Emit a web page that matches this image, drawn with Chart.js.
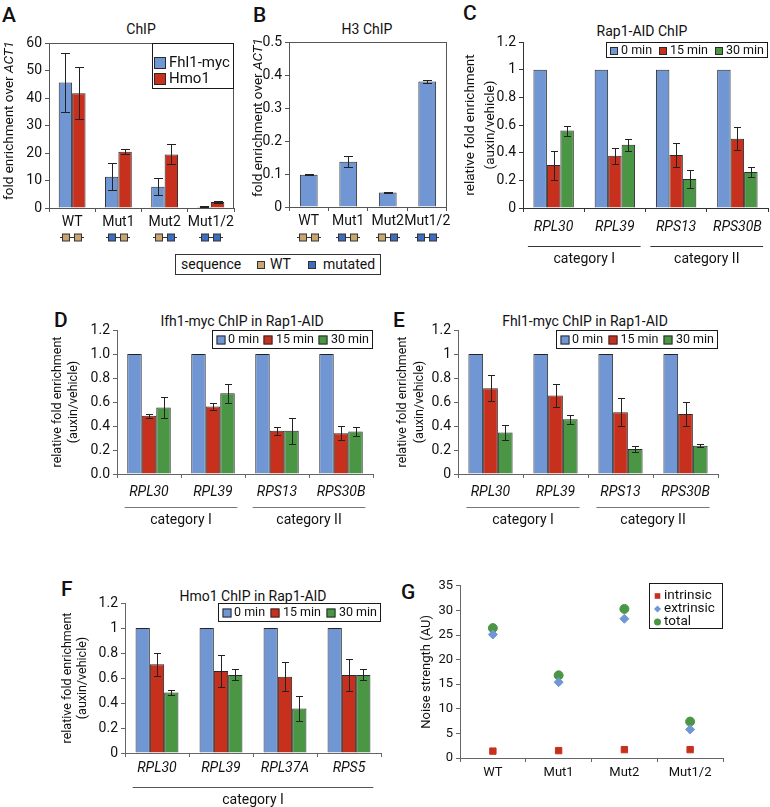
<!DOCTYPE html>
<html>
<head>
<meta charset="utf-8">
<script src="https://cdn.jsdelivr.net/npm/chart.js@4.4.1/dist/chart.umd.min.js"></script>
<style>
  body { margin: 0; background: #fff; width: 770px; height: 807px; position: relative; overflow: hidden; font-family: Roboto, "DejaVu Sans", sans-serif; color: #111; }
  canvas { position: absolute; }
  .letter { position: absolute; font-size: 21px; font-weight: 500; line-height: 1; }
  .title { position: absolute; font-size: 14px; line-height: 16px; white-space: nowrap; transform: translateX(-50%); }
  #seqKey { position: absolute; left: 175px; top: 254px; width: 204px; height: 19px; border: 1px solid #333; font-size: 14px; line-height: 19px; }
  #seqKey span { position: absolute; }
  #seqKey .sq { width: 6px; height: 6px; border: 1px solid #333; top: 6px; }
  #noiseKeyFrame { position: absolute; left: 649px; top: 583px; width: 72px; height: 44px; border: 1px solid #1a1a1a; pointer-events: none; z-index: 5; }
</style>
</head>
<body>
<div class="letter" style="left:2px;top:5px">A</div>
<div class="letter" style="left:253px;top:5px">B</div>
<div class="letter" style="left:463px;top:3px">C</div>
<div class="letter" style="left:54px;top:310px">D</div>
<div class="letter" style="left:393px;top:310px">E</div>
<div class="letter" style="left:61px;top:579px">F</div>
<div class="letter" style="left:401px;top:582px">G</div>

<div class="title" style="left:141px;top:21px">ChIP</div>
<div class="title" style="left:367px;top:21px">H3 ChIP</div>
<div class="title" style="left:642px;top:23px">Rap1-AID ChIP</div>
<div class="title" style="left:242px;top:313px">Ifh1-myc ChIP in Rap1-AID</div>
<div class="title" style="left:585px;top:313px">Fhl1-myc ChIP in Rap1-AID</div>
<div class="title" style="left:253px;top:588px">Hmo1 ChIP in Rap1-AID</div>

<div id="seqKey">
  <span style="left:5px">sequence</span>
  <span class="sq" style="left:81px;background:#c9a66f"></span>
  <span style="left:94px">WT</span>
  <span class="sq" style="left:132px;background:#3f6cbf"></span>
  <span style="left:147px">mutated</span>
</div>

<canvas id="chartA"></canvas>
<canvas id="chartB"></canvas>
<canvas id="chartC"></canvas>
<canvas id="chartD"></canvas>
<canvas id="chartE"></canvas>
<canvas id="chartF"></canvas>
<canvas id="chartG"></canvas>
<div id="noiseKeyFrame"></div>

<script>
// ---- data ----
const seqLabels = ['WT', 'Mut1', 'Mut2', 'Mut1/2'];
const fhl1Chip = [45.6, 11.4, 7.7, 0.5];
const fhl1ChipErr = [10.8, 5.0, 3.1, 0.2];
const hmo1Chip = [41.7, 20.5, 19.5, 2.2];
const hmo1ChipErr = [9.4, 0.8, 3.6, 0.3];
const h3Chip = [0.098, 0.137, 0.044, 0.380];
const h3ChipErr = [0.002, 0.017, 0.002, 0.004];
const seqSites = [['WT', 'WT'], ['mutated', 'WT'], ['WT', 'mutated'], ['mutated', 'mutated']];

const geneLabels = ['RPL30', 'RPL39', 'RPS13', 'RPS30B'];
const hmoGeneLabels = ['RPL30', 'RPL39', 'RPL37A', 'RPS5'];
const timeLabels = ['0 min', '15 min', '30 min'];
const geneGroups = [['category I', 0, 1], ['category II', 2, 3]];
const hmoGroups = [['category I', 0, 3]];

const rap0 = [1, 1, 1, 1];
const rap15 = [0.31, 0.377, 0.384, 0.50];
const rap15Err = [0.105, 0.058, 0.084, 0.083];
const rap30 = [0.56, 0.458, 0.209, 0.26];
const rap30Err = [0.036, 0.044, 0.068, 0.036];

const ifh0 = [1, 1, 1, 1];
const ifh0Err = [0.003, 0.003, 0.003, 0.003];
const ifh15 = [0.485, 0.562, 0.36, 0.34];
const ifh15Err = [0.016, 0.032, 0.033, 0.06];
const ifh30 = [0.554, 0.673, 0.36, 0.355];
const ifh30Err = [0.09, 0.078, 0.106, 0.035];

const fhl0 = [1, 1, 1, 1];
const fhl0Err = [0.003, 0.003, 0.003, 0.003];
const fhl15 = [0.715, 0.654, 0.515, 0.50];
const fhl15Err = [0.11, 0.097, 0.115, 0.10];
const fhl30 = [0.346, 0.457, 0.208, 0.235];
const fhl30Err = [0.065, 0.037, 0.024, 0.013];

const hmo0 = [1, 1, 1, 1];
const hmo0Err = [0.003, 0.003, 0.003, 0.003];
const hmo15 = [0.71, 0.657, 0.61, 0.625];
const hmo15Err = [0.093, 0.13, 0.115, 0.13];
const hmo30 = [0.485, 0.625, 0.357, 0.625];
const hmo30Err = [0.02, 0.045, 0.1, 0.045];

const noiseLabels = ['WT', 'Mut1', 'Mut2', 'Mut1/2'];
const noiseIntrinsic = [1.4, 1.5, 1.7, 1.7];
const noiseExtrinsic = [25.1, 15.4, 28.3, 5.8];
const noiseTotal = [26.4, 16.8, 30.3, 7.4];

// ---- styles ----
const FONT = 'Roboto, "DejaVu Sans", sans-serif';
const BLUE = '#7096d4';
const RED = '#c8301e';
const GREEN = '#4b9645';
const EDGE = '#2a2a2a';
const siteColors = { WT: '#c9a66f', mutated: '#3f6cbf' };

// ---- plugins ----
const errorBars = {
  id: 'errorBars',
  afterDatasetsDraw(chart, args, opts) {
    const ctx = chart.ctx, y = chart.scales.y;
    ctx.save();
    ctx.strokeStyle = '#222';
    ctx.lineWidth = 1;
    chart.data.datasets.forEach((ds, i) => {
      if (!ds.errors) return;
      chart.getDatasetMeta(i).data.forEach((bar, j) => {
        const v = ds.data[j], e = ds.errors[j];
        const x = Math.round(bar.x) + 0.5;
        const y1 = Math.round(y.getPixelForValue(v + e)) + 0.5;
        const y2 = Math.round(y.getPixelForValue(v - e)) + 0.5;
        const w = opts.cap / 2;
        ctx.beginPath();
        ctx.moveTo(x, y1); ctx.lineTo(x, y2);
        ctx.moveTo(x - w, y1); ctx.lineTo(x + w, y1);
        ctx.moveTo(x - w, y2); ctx.lineTo(x + w, y2);
        ctx.stroke();
      });
    });
    ctx.restore();
  }
};

const plotFrame = {
  id: 'plotFrame',
  afterDraw(chart, args, opts) {
    if (!opts.show) return;
    const ca = chart.chartArea, ctx = chart.ctx;
    ctx.save();
    ctx.strokeStyle = '#555';
    ctx.lineWidth = 1;
    ctx.strokeRect(ca.left + 0.5, ca.top + 0.5, ca.right - ca.left - 1, ca.bottom - ca.top);
    ctx.restore();
  }
};

const yTitle = {
  id: 'yTitle',
  afterDraw(chart, args, opts) {
    if (!opts.lines) return;
    const ctx = chart.ctx, ca = chart.chartArea;
    const cy = (ca.top + ca.bottom) / 2 + (opts.dy || 0);
    opts.lines.forEach((segs, k) => {
      ctx.save();
      ctx.translate(ca.left - opts.offsets[k], cy);
      ctx.rotate(-Math.PI / 2);
      ctx.textBaseline = 'middle';
      ctx.textAlign = 'left';
      ctx.fillStyle = '#111';
      let total = 0;
      segs.forEach(([t, it]) => {
        ctx.font = (it ? 'italic ' : '') + opts.size + 'px ' + FONT;
        total += ctx.measureText(t).width;
      });
      let px = -total / 2;
      segs.forEach(([t, it]) => {
        ctx.font = (it ? 'italic ' : '') + opts.size + 'px ' + FONT;
        ctx.fillText(t, px, 0);
        px += ctx.measureText(t).width;
      });
      ctx.restore();
    });
  }
};

function drawMarker(ctx, ds, x, y, size) {
  ctx.fillStyle = ds.backgroundColor;
  ctx.strokeStyle = EDGE;
  ctx.lineWidth = 1;
  const h = size / 2;
  if (!ds.pointStyle) {
    ctx.fillRect(x - h, y - h, size, size);
    ctx.strokeRect(x - h + 0.5, y - h + 0.5, size - 1, size - 1);
    return;
  }
  ctx.beginPath();
  if (ds.pointStyle === 'rect') {
    ctx.rect(x - h * 0.8, y - h * 0.8, size * 0.8, size * 0.8);
  } else if (ds.pointStyle === 'rectRot') {
    ctx.moveTo(x, y - h); ctx.lineTo(x + h, y); ctx.lineTo(x, y + h); ctx.lineTo(x - h, y); ctx.closePath();
  } else {
    ctx.arc(x, y, h, 0, Math.PI * 2);
  }
  ctx.fill();
}

function strokeBox(ctx, left, top, bw, bh) {
  ctx.save();
  ctx.setLineDash([]);
  ctx.strokeStyle = '#1a1a1a';
  ctx.lineWidth = 1;
  ctx.strokeRect(left + 0.5, top + 0.5, bw - 1, bh - 1);
  ctx.restore();
}

const boxLegend = {
  id: 'boxLegend',
  afterDraw(chart, args, o) {
    if (!o.show) return;
    const ctx = chart.ctx, ca = chart.chartArea, ds = chart.data.datasets;
    const bw = o.boxW, bh = o.boxH;
    const left = Math.round(ca.right - bw), top = Math.round(ca.top);
    ctx.save();
    ctx.setLineDash([]);
    ctx.fillStyle = '#fff';
    ctx.fillRect(left, top, bw, bh);
    ctx.font = o.size + 'px ' + FONT;
    ctx.textBaseline = 'middle';
    ctx.textAlign = 'left';
    if (o.horizontal) {
      const widths = ds.map(d => o.swatch + o.gap + ctx.measureText(d.label).width);
      const spare = (bw - 2 * o.pad - widths.reduce((a, b) => a + b, 0)) / (ds.length - 1);
      const cy = top + bh / 2 + 0.5;
      let x = left + o.pad;
      ds.forEach((d, i) => {
        drawMarker(ctx, d, Math.round(x + o.swatch / 2), Math.round(cy), o.swatch);
        ctx.fillStyle = '#111';
        ctx.fillText(d.label, x + o.swatch + o.gap, cy);
        x += widths[i] + spare;
      });
    } else {
      ds.forEach((d, i) => {
        const cy = Math.round(top + o.firstRow + i * o.rowGap);
        drawMarker(ctx, d, left + o.pad + o.swatch / 2, cy, o.swatch);
        ctx.fillStyle = '#111';
        ctx.fillText(d.label, left + o.pad + o.swatch + o.gap, cy);
      });
    }
    ctx.restore();
    if (o.stroke !== false) strokeBox(ctx, left, top, bw, bh);
  }
};

const groupBrackets = {
  id: 'groupBrackets',
  afterDraw(chart, args, o) {
    if (!o.groups) return;
    const x = chart.scales.x, ca = chart.chartArea, ctx = chart.ctx;
    const step = x.getPixelForValue(1) - x.getPixelForValue(0);
    ctx.save();
    o.groups.forEach(([name, a, b]) => {
      const x1 = x.getPixelForValue(a) - step * o.reach;
      const x2 = x.getPixelForValue(b) + step * o.reach;
      const ly = Math.round(ca.bottom + o.lineY) + 0.5;
      ctx.strokeStyle = o.color;
      ctx.lineWidth = 1;
      ctx.beginPath(); ctx.moveTo(x1, ly); ctx.lineTo(x2, ly); ctx.stroke();
      ctx.fillStyle = '#111';
      ctx.font = '14px ' + FONT;
      ctx.textAlign = 'center';
      ctx.textBaseline = 'middle';
      ctx.fillText(name, (x1 + x2) / 2, ca.bottom + o.textY);
    });
    ctx.restore();
  }
};

const siteMarks = {
  id: 'siteMarks',
  afterDraw(chart, args, o) {
    if (!o.sites) return;
    const x = chart.scales.x, ctx = chart.ctx;
    const yy = Math.round(chart.chartArea.bottom + o.offsetY) + 0.5;
    ctx.save();
    ctx.strokeStyle = '#333';
    ctx.lineWidth = 1;
    o.sites.forEach((pair, i) => {
      const cx = Math.round(x.getPixelForValue(i));
      ctx.beginPath(); ctx.moveTo(cx - 12, yy); ctx.lineTo(cx + 12, yy); ctx.stroke();
      pair.forEach((s, k) => {
        const sx = cx + (k ? 6 : -6);
        ctx.fillStyle = siteColors[s];
        ctx.fillRect(sx - 3.5, yy - 3.5, 7, 7);
        ctx.strokeRect(sx - 3.5, yy - 3.5, 7, 7);
      });
    });
    ctx.restore();
  }
};

Chart.register(errorBars, plotFrame, yTitle, boxLegend, groupBrackets, siteMarks);

// ---- helpers ----
function place(id, area, m) {
  const c = document.getElementById(id);
  c.width = area[2] - area[0] + m[0] + m[2];
  c.height = area[3] - area[1] + m[1] + m[3];
  c.style.left = (area[0] - m[0]) + 'px';
  c.style.top = (area[1] - m[1]) + 'px';
  return c;
}

function scalesFor(m, p) {
  return {
    x: {
      type: 'category',
      offset: true,
      afterFit: s => { s.height = m[3]; },
      grid: { display: true, drawOnChartArea: false, drawTicks: true, tickLength: 4, offset: true, color: p.axis },
      border: { display: true, color: p.axis },
      ticks: {
        color: '#111', padding: p.xPad, maxRotation: 0, minRotation: 0, autoSkip: false,
        font: { family: FONT, size: p.xSize || 14, style: p.italic ? 'italic' : 'normal' }
      }
    },
    y: {
      min: 0, max: p.yMax,
      afterFit: s => { s.width = m[0]; },
      grid: { display: true, drawOnChartArea: false, drawTicks: true, tickLength: 4, color: p.axis },
      border: { display: true, color: p.axis },
      ticks: {
        stepSize: p.yStep, color: '#111', padding: 3,
        font: { family: FONT, size: p.ySize || 14 },
        callback: p.yFmt || (v => String(Math.round(v * 1000) / 1000))
      }
    }
  };
}

function bar(label, data, errors, color) {
  return { label: label, data: data, errors: errors, backgroundColor: color, borderColor: EDGE, borderWidth: 1 };
}

function barPanel(id, area, m, p, labels, datasets) {
  const canvas = place(id, area, m);
  return new Chart(canvas, {
    type: 'bar',
    data: { labels: labels, datasets: datasets },
    options: {
      responsive: false, animation: false, events: [],
      layout: { padding: { top: m[1], right: m[2], left: 0, bottom: 0 } },
      datasets: { bar: { categoryPercentage: p.catPct, barPercentage: 1 } },
      scales: scalesFor(m, p),
      plugins: {
        legend: { display: false }, tooltip: { enabled: false },
        errorBars: { cap: p.cap },
        plotFrame: { show: !!p.frame },
        yTitle: p.yTitle,
        boxLegend: p.legend || {},
        groupBrackets: p.groups || {},
        siteMarks: p.sites || {}
      }
    }
  });
}

// ---- A ----
barPanel('chartA', [49, 43, 234, 208], [49, 43, 6, 40], {
  axis: '#555', yMax: 60, yStep: 10, xPad: 2, catPct: 0.58, cap: 9, frame: true,
  yTitle: { size: 13.5, offsets: [39], lines: [[['fold enrichment over ', false], ['ACT1', true]]], dy: -5 },
  legend: { show: true, horizontal: false, boxW: 82, boxH: 46, size: 15, swatch: 12, gap: 3, pad: 2, firstRow: 20, rowGap: 15.5 },
  sites: { sites: seqSites, offsetY: 29 }
}, seqLabels, [
  bar('Fhl1-myc', fhl1Chip, fhl1ChipErr, BLUE),
  bar('Hmo1', hmo1Chip, hmo1ChipErr, RED)
]);

// ---- B ----
barPanel('chartB', [289, 42, 447, 207], [40, 42, 6, 40], {
  axis: '#555', yMax: 0.5, yStep: 0.1, xPad: 2, catPct: 0.45, cap: 9, frame: true,
  yFmt: v => v === 0 ? '0' : v.toFixed(1),
  yTitle: { size: 13.5, offsets: [30], lines: [[['fold enrichment over ', false], ['ACT1', true]]], dy: -7 },
  sites: { sites: seqSites, offsetY: 30 }
}, seqLabels, [
  bar('H3', h3Chip, h3ChipErr, BLUE)
]);

// ---- C ----
barPanel('chartC', [523, 42, 768, 208], [68, 42, 2, 60], {
  axis: '#333', yMax: 1.2, yStep: 0.2, xPad: 7, catPct: 0.66, cap: 7, italic: true,
  yTitle: { size: 13.5, offsets: [52, 32], lines: [[['relative fold enrichment', false]], [['(auxin/vehicle)', false]]] },
  legend: { show: true, horizontal: true, boxW: 162, boxH: 16, size: 12.5, swatch: 8, gap: 3, pad: 4 },
  groups: { groups: geneGroups, reach: 0.42, lineY: 38, textY: 51, color: '#333' }
}, geneLabels, [
  bar(timeLabels[0], rap0, null, BLUE),
  bar(timeLabels[1], rap15, rap15Err, RED),
  bar(timeLabels[2], rap30, rap30Err, GREEN)
]);

// ---- D ----
barPanel('chartD', [117, 330, 373, 474], [117, 30, 8, 56], {
  axis: '#666', yMax: 1.2, yStep: 0.2, xPad: 6, catPct: 0.68, cap: 7, italic: true,
  yFmt: v => v.toFixed(1),
  yTitle: { size: 12.5, offsets: [59, 43], lines: [[['relative fold enrichment', false]], [['(auxin/vehicle)', false]]] },
  legend: { show: true, horizontal: true, boxW: 161, boxH: 19, size: 12.5, swatch: 9, gap: 3, pad: 4 },
  groups: { groups: geneGroups, reach: 0.38, lineY: 33, textY: 46, color: '#777' }
}, geneLabels, [
  bar(timeLabels[0], ifh0, ifh0Err, BLUE),
  bar(timeLabels[1], ifh15, ifh15Err, RED),
  bar(timeLabels[2], ifh30, ifh30Err, GREEN)
]);

// ---- E ----
barPanel('chartE', [458, 330, 718, 474], [70, 30, 8, 56], {
  axis: '#666', yMax: 1.2, yStep: 0.2, xPad: 6, catPct: 0.68, cap: 7, italic: true,
  yTitle: { size: 12.5, offsets: [55, 38], lines: [[['relative fold enrichment', false]], [['(auxin/vehicle)', false]]] },
  legend: { show: true, horizontal: true, boxW: 162, boxH: 19, size: 12.5, swatch: 9, gap: 3, pad: 4 },
  groups: { groups: geneGroups, reach: 0.37, lineY: 33, textY: 46, color: '#777' }
}, geneLabels, [
  bar(timeLabels[0], fhl0, fhl0Err, BLUE),
  bar(timeLabels[1], fhl15, fhl15Err, RED),
  bar(timeLabels[2], fhl30, fhl30Err, GREEN)
]);

// ---- F ----
barPanel('chartF', [125, 603, 381, 753], [125, 23, 8, 54], {
  axis: '#666', yMax: 1.2, yStep: 0.2, xPad: 3, catPct: 0.67, cap: 7, italic: true,
  yTitle: { size: 12.5, offsets: [57, 42], lines: [[['relative fold enrichment', false]], [['(auxin/vehicle)', false]]] },
  legend: { show: true, horizontal: true, boxW: 163, boxH: 19, size: 12.5, swatch: 9, gap: 3, pad: 4 },
  groups: { groups: hmoGroups, reach: 0.38, lineY: 34, textY: 47, color: '#555' }
}, hmoGeneLabels, [
  bar(timeLabels[0], hmo0, hmo0Err, BLUE),
  bar(timeLabels[1], hmo15, hmo15Err, RED),
  bar(timeLabels[2], hmo30, hmo30Err, GREEN)
]);

// ---- G ----
const mG = [60, 8, 6, 30];
const scalesG = scalesFor(mG, { axis: '#666', yMax: 35, yStep: 5, xPad: 3, xSize: 13, ySize: 13 });
new Chart(place('chartG', [460, 583, 723, 758], mG), {
  type: 'line',
  data: {
    labels: noiseLabels,
    datasets: [
      { label: 'intrinsic', data: noiseIntrinsic, pointStyle: 'rect', pointRadius: 4.5, backgroundColor: RED, borderColor: RED, showLine: false },
      { label: 'extrinsic', data: noiseExtrinsic, pointStyle: 'rectRot', pointRadius: 4.5, backgroundColor: BLUE, borderColor: BLUE, showLine: false },
      { label: 'total', data: noiseTotal, pointStyle: 'circle', pointRadius: 4.5, backgroundColor: GREEN, borderColor: GREEN, showLine: false }
    ]
  },
  options: {
    responsive: false, animation: false, events: [],
    layout: { padding: { top: mG[1], right: mG[2], left: 0, bottom: 0 } },
    scales: scalesG,
    plugins: {
      legend: { display: false }, tooltip: { enabled: false },
      yTitle: { size: 13, offsets: [33], lines: [[['Noise strength (AU)', false]]] },
      boxLegend: { show: true, stroke: false, horizontal: false, boxW: 74, boxH: 46, size: 13.5, swatch: 7, gap: 3, pad: 5, firstRow: 10, rowGap: 13 }
    }
  }
});
</script>
</body>
</html>
